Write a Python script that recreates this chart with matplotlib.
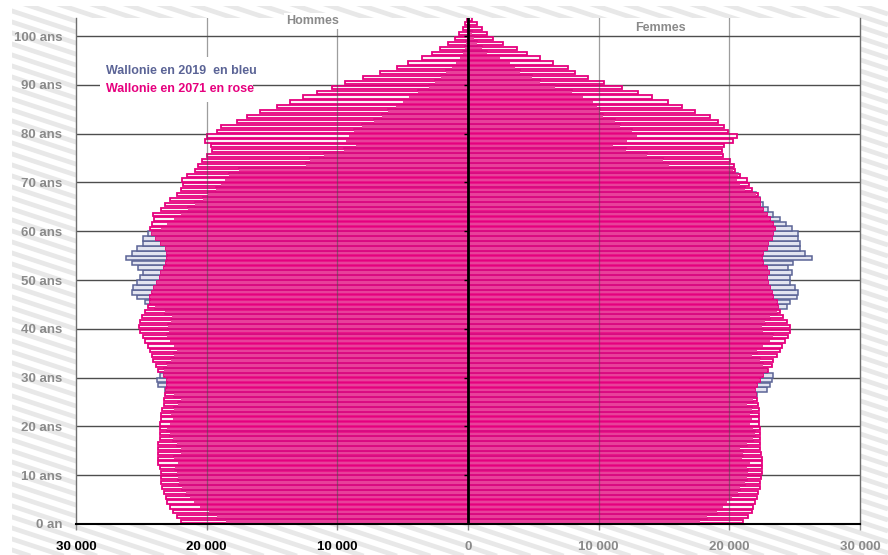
#!/usr/bin/env python3
"""Pyramide des ages de la Wallonie, 2019 (bleu) et 2071 (rose)."""

import matplotlib
matplotlib.use("Agg")
import matplotlib.pyplot as plt
from matplotlib.patches import Rectangle
import numpy as np

# --- data -------------------------------------------------------------------
ages = list(range(0, 104))

hommes_2019 = [
    18500, 19200, 19800, 20500, 21000, 21300, 21600, 21900, 22100, 22200,
    22300, 22400, 22200, 22500, 22000, 22000, 22300, 22600, 22800, 23000,
    22800, 22600, 22700, 22500, 22200, 22000, 22500, 23200, 23700, 23800,
    23600, 23300, 23000, 22700, 22500, 22300, 22500, 22800, 23000, 22900,
    22950, 22700, 22650, 23200, 23950, 24700, 25300, 25700, 25600, 25300,
    25100, 24860, 25250, 25700, 26160, 25700, 25300, 24860, 24860, 24480,
    23500, 23000, 22500, 22000, 21400, 20900, 20300, 19900, 19300, 18900,
    18600, 18300, 17500, 12400, 12100, 11000, 9500, 8600, 9300, 9100,
    8700, 8100, 7200, 6600, 6100, 5500, 5000, 4500, 3800, 3000,
    2500, 2100, 1700, 1250, 900, 620, 420, 260, 150, 90,
    50, 25, 12, 5,
]

hommes_2071 = [
    22000, 22300, 22600, 22800, 23000, 23100, 23300, 23400, 23500, 23500,
    23500, 23600, 23700, 23700, 23700, 23700, 23700, 23600, 23600, 23600,
    23550, 23500, 23500, 23400, 23300, 23300, 23200, 23100, 23000, 23000,
    23300, 23700, 23900, 24100, 24200, 24300, 24500, 24700, 24900, 25100,
    25150, 25100, 24950, 24700, 24500, 24300, 24300, 24150, 24000, 23800,
    23600, 23500, 23300, 23100, 23000, 23000, 23100, 23500, 23900, 24200,
    24300, 24200, 24000, 24100, 23500, 23200, 22800, 22300, 22000, 21800,
    21900, 21500, 20900, 20650, 20350, 20000, 19600, 19700, 20100, 20000,
    19200, 18900, 17700, 16900, 15900, 14600, 13600, 12600, 11550, 10400,
    9400, 8000, 6700, 5450, 4600, 3500, 2750, 2140, 1530, 1000,
    690, 380, 230, 80,
]

femmes_2019 = [
    17750, 18280, 19050, 19500, 19800, 20200, 20650, 20800, 21200, 21330,
    21420, 21330, 21600, 20960, 21040, 20800, 21330, 21800, 21950, 21800,
    21600, 21700, 21600, 21700, 21330, 21800, 22100, 22870, 23100, 23250,
    23330, 22870, 22570, 22340, 21700, 22100, 22570, 23100, 23330, 22570,
    22500, 22700, 23100, 23640, 24400, 24630, 25170, 25250, 25000, 24630,
    24630, 24800, 24500, 24900, 26300, 25800, 25400, 25400, 25250, 25250,
    24800, 24300, 23870, 23330, 22950, 22570, 22340, 22030, 21200, 20800,
    20580, 20660, 20270, 15380, 14900, 13700, 12090, 11100, 12160, 12930,
    12550, 11630, 11250, 10330, 10100, 9870, 9560, 8800, 7950, 6650,
    5500, 4900, 4000, 3600, 3200, 2450, 1450, 1070, 700, 460,
    300, 150, 80, 30,
]

femmes_2071 = [
    21040, 21420, 21730, 21800, 21950, 22100, 22190, 22340, 22340, 22420,
    22500, 22500, 22500, 22500, 22420, 22340, 22340, 22340, 22340, 22340,
    22260, 22260, 22260, 22260, 22190, 22100, 22030, 21950, 22100, 22340,
    22570, 22950, 23260, 23330, 23640, 23870, 24020, 24250, 24480, 24630,
    24630, 24400, 24100, 23870, 23720, 23640, 23330, 23260, 23100, 22950,
    22870, 23030, 22870, 22570, 22500, 22570, 22870, 22950, 23260, 23330,
    23490, 23330, 23100, 22870, 22570, 22340, 22340, 22190, 21730, 21500,
    21340, 20810, 20430, 20350, 20040, 19510, 19430, 19580, 20270, 20580,
    19890, 19580, 19120, 18510, 17370, 16370, 15300, 14080, 13000, 11780,
    10400, 9180, 8190, 7650, 6500, 5500, 4500, 3750, 2680, 1900,
    1450, 1070, 690, 300,
]

age_ticks = [0, 10, 20, 30, 40, 50, 60, 70, 80, 90, 100]
age_labels = ["0 an", "10 ans", "20 ans", "30 ans", "40 ans", "50 ans",
              "60 ans", "70 ans", "80 ans", "90 ans", "100 ans"]
x_ticks = [-30000, -20000, -10000, 0, 10000, 20000, 30000]
x_labels = ["30 000", "20 000", "10 000", "0", "10 000", "20 000", "30 000"]
x_label_colors = ["black", "black", "black", "#8a8a8a", "#8a8a8a", "#8a8a8a", "#8a8a8a"]

BLUE = "#5b6496"
PINK = "#e6007e"
GREY = "#8a8a8a"

plt.rcParams["font.family"] = ["Liberation Sans", "DejaVu Sans"]
plt.rcParams["font.weight"] = "bold"

W, H = 888, 555
fig = plt.figure(figsize=(W / 100, H / 100), dpi=100)

# striped background
bg = fig.add_axes([0, 0, 1, 1], zorder=0)
bg.set_xlim(0, W)
bg.set_ylim(H, 0)
bg.axis("off")
clip = Rectangle((12, 6), W - 12, H - 6, transform=bg.transData)
for off in np.arange(-400, H + 20, 11):
    line, = bg.plot([0, W], [off, off + W * 0.33], color="#e8e8e8", lw=3.4,
                    solid_capstyle="butt")
    line.set_clip_path(clip)

# main axes in pixel frame
left, right, top, bottom = 76, 860, 18, 524
ax = fig.add_axes([left / W, 1 - bottom / H, (right - left) / W, (bottom - top) / H], zorder=1)
ax.set_facecolor("white")
ax.set_xlim(-30000, 30000)
ax.set_ylim(0, 103.7)

y = np.array(ages) + 0.5
h19 = np.array(hommes_2019)
h71 = np.array(hommes_2071)
f19 = np.array(femmes_2019)
f71 = np.array(femmes_2071)

# 2019 in blue, 2071 in pink (outlined bars); the common part is darker
ax.barh(y, -h19, height=0.98, color="#e2e4f0", edgecolor=BLUE, linewidth=1.1, zorder=2)
ax.barh(y, f19, height=0.98, color="#e2e4f0", edgecolor=BLUE, linewidth=1.1, zorder=2)
ax.barh(y, -h71, height=0.66, color="#fdf1f7", edgecolor=PINK, linewidth=1.3, zorder=3)
ax.barh(y, f71, height=0.66, color="#fdf1f7", edgecolor=PINK, linewidth=1.3, zorder=3)
ax.barh(y, -np.minimum(h19, h71), height=0.5, color="#e8409a", linewidth=0, zorder=3.5)
ax.barh(y, np.minimum(f19, f71), height=0.5, color="#e8409a", linewidth=0, zorder=3.5)

# grid
ax.set_yticks(age_ticks)
ax.set_yticklabels(age_labels)
for a in age_ticks[1:]:
    ax.axhline(a, color="#4d4d4d", lw=1.0, zorder=1)
for xv in x_ticks[1:-1]:
    if xv != 0:
        ax.axvline(xv, color="#4d4d4d", lw=0.9, alpha=0.55, zorder=4)
ax.axvline(0, color="black", lw=2.0, zorder=5)
ax.plot(np.zeros(len(age_ticks) - 1), age_ticks[1:], linestyle="none",
        marker=0, markersize=3, color="black", zorder=5)

ax.set_xticks(x_ticks)
ax.set_xticklabels(x_labels)
for lab, col in zip(ax.get_xticklabels(), x_label_colors):
    lab.set_color(col)
ax.tick_params(axis="x", length=4, width=1, color=GREY, pad=8, labelsize=9.5)
ax.tick_params(axis="y", length=0, pad=10, labelsize=9.5, labelcolor=GREY)

for side in ("left", "right"):
    ax.spines[side].set_color("#6e6e6e")
    ax.spines[side].set_linewidth(1.0)
ax.spines["top"].set_visible(False)
ax.spines["bottom"].set_color("black")
ax.spines["bottom"].set_linewidth(1.5)
ax.spines["bottom"].set_zorder(6)

# legend box and headings
ax.add_patch(Rectangle((100 / W, 1 - 102 / H), 153 / W, 45 / H, transform=fig.transFigure,
                       facecolor="white", edgecolor="none", zorder=6))
fig.text(106 / W, 1 - 71 / H, "Wallonie en 2019  en bleu", color=BLUE, fontsize=9,
         fontweight="bold", va="center", ha="left", zorder=7)
fig.text(106 / W, 1 - 89 / H, "Wallonie en 2071 en rose", color=PINK, fontsize=9,
         fontweight="bold", va="center", ha="left", zorder=7)
fig.text(313 / W, 1 - 21 / H, "Hommes", color=GREY, fontsize=9, fontweight="bold",
         ha="center", va="center", zorder=7,
         bbox=dict(facecolor="white", edgecolor="none", pad=1.5))
fig.text(660 / W, 1 - 28 / H, "Femmes", color=GREY, fontsize=9, fontweight="bold",
         ha="center", va="center", zorder=7)

fig.savefig("out.png", dpi=100)
